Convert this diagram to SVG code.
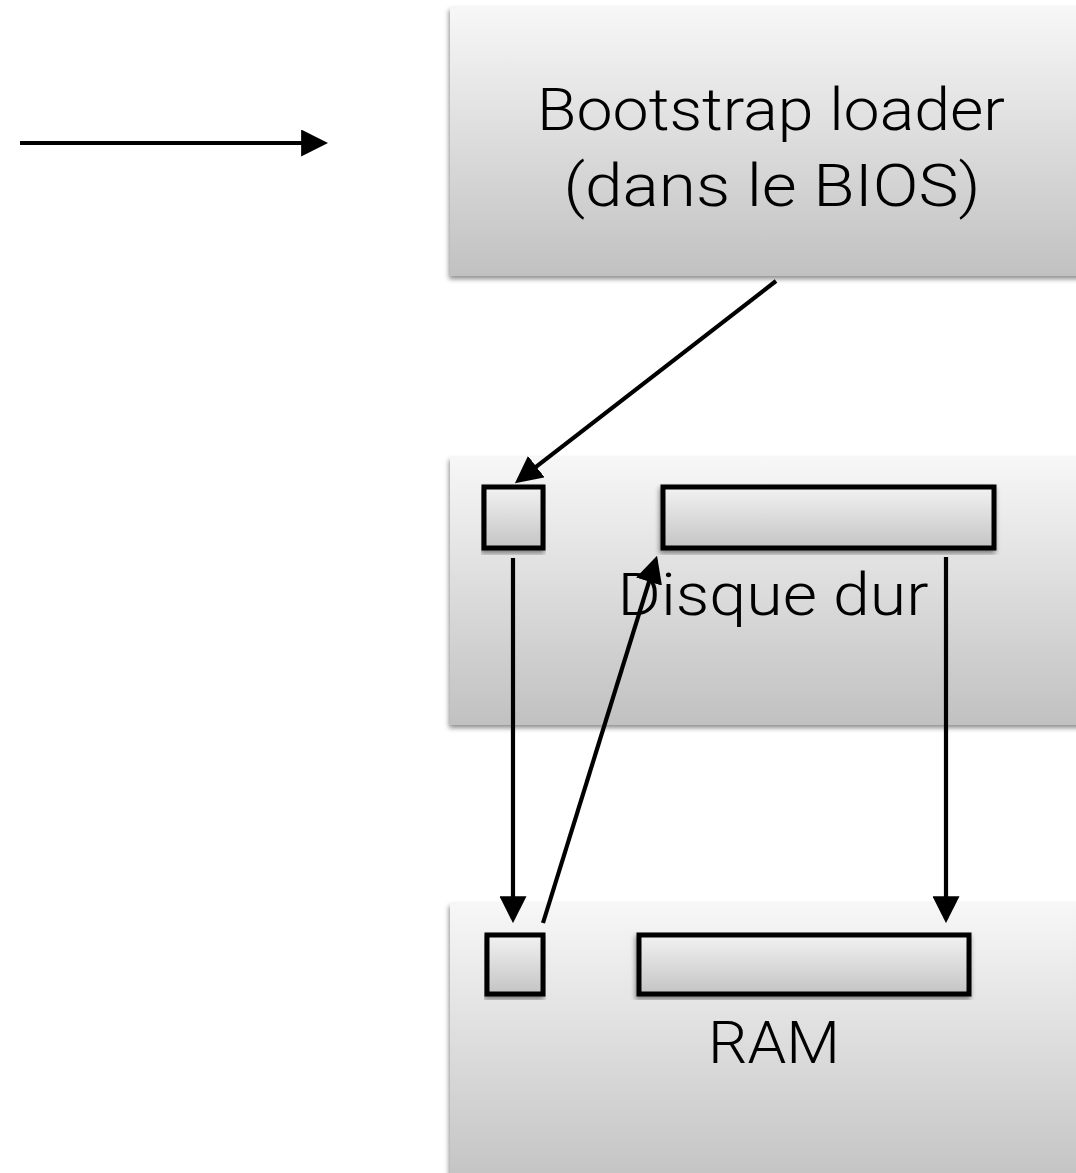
<svg xmlns="http://www.w3.org/2000/svg" width="1076" height="1173" viewBox="0 0 1076 1173">
<defs>
<linearGradient id="gBig" x1="0" y1="0" x2="0" y2="1">
<stop offset="0" stop-color="#f7f7f7"/>
<stop offset="1" stop-color="#c1c1c1"/>
</linearGradient>
<linearGradient id="gSmall" x1="0" y1="0" x2="0" y2="1">
<stop offset="0" stop-color="#f2f2f2"/>
<stop offset="1" stop-color="#c4c4c4"/>
</linearGradient>
<filter id="sh" x="-5%" y="-5%" width="110%" height="115%">
<feDropShadow dx="-1" dy="3" stdDeviation="2.5" flood-color="#000" flood-opacity="0.45"/>
</filter>
<marker id="ah" markerUnits="userSpaceOnUse" markerWidth="27" markerHeight="27" viewBox="0 0 26 26" refX="22" refY="13" orient="auto">
<path d="M0,0 L26,13 L0,26 Z" fill="#000"/>
</marker>
</defs>
<style>
.big{fill:url(#gBig);filter:url(#sh);}
.cell{fill:url(#gSmall);stroke:#000;stroke-width:5;filter:url(#sh);}
.lbl{font-family:"Roboto","Liberation Sans",sans-serif;font-weight:300;font-size:60px;fill:#000;text-anchor:middle;}
.con{stroke:#000;stroke-width:4.2;fill:none;marker-end:url(#ah);}
</style>
<rect width="1076" height="1173" fill="#fff"/>
<g id="bios">
<rect class="big" x="450" y="7" width="640" height="269"/>
<text class="lbl" x="771" y="130" textLength="468" lengthAdjust="spacingAndGlyphs">Bootstrap loader</text>
<text class="lbl" x="772" y="206" textLength="417" lengthAdjust="spacingAndGlyphs">(dans le BIOS)</text>
</g>
<g id="disque">
<rect class="big" x="450" y="457" width="640" height="268"/>
<text class="lbl" x="773" y="615" textLength="311" lengthAdjust="spacingAndGlyphs">Disque dur</text>
<rect id="disque-boot" class="cell" x="484" y="487" width="59" height="61"/>
<rect id="disque-os" class="cell" x="663" y="487" width="331" height="61"/>
</g>
<g id="ram">
<rect class="big" x="450" y="903" width="640" height="290"/>
<text class="lbl" x="774" y="1063" textLength="132" lengthAdjust="spacingAndGlyphs">RAM</text>
<rect id="ram-boot" class="cell" x="487" y="935" width="56" height="59"/>
<rect id="ram-os" class="cell" x="639" y="935" width="330" height="59"/>
</g>
<g id="connectors">
<line class="con" x1="20" y1="143" x2="324" y2="143"/>
<line class="con" x1="776" y1="281" x2="518.2" y2="480.6"/>
<line class="con" x1="513" y1="558" x2="513" y2="919"/>
<line class="con" x1="543" y1="923" x2="655.8" y2="559.8"/>
<line class="con" x1="946" y1="557" x2="946" y2="919"/>
</g>
</svg>
